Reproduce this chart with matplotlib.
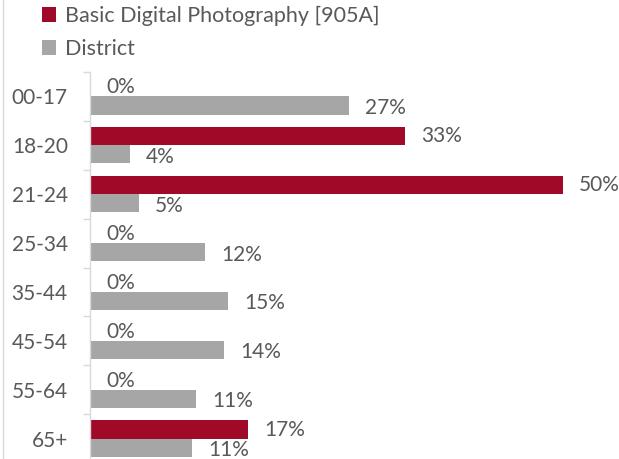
import numpy as np
import matplotlib.pyplot as plt
from matplotlib.lines import Line2D

# Данные
age_groups = ['00-17', '18-20', '21-24', '25-34', '35-44', '45-54', '55-64', '65+']
course_pct = [0, 33.3, 50.0, 0, 0, 0, 0, 16.7]
district_pct = [27.4, 4.2, 5.2, 12.2, 14.6, 14.2, 11.2, 10.8]
series_names = ['Basic Digital Photography [905A]', 'District']

red = '#A00A28'
gray = '#A6A6A6'
text_col = '#595959'
line_col = '#D9D9D9'
fs = 15

plt.rcParams['font.family'] = ['Lato', 'DejaVu Sans']

fig = plt.figure(figsize=(6.19, 4.59), dpi=100)
ax = fig.add_axes([90 / 619, -4 / 459, 520 / 619, 391 / 459])

y = np.arange(len(age_groups))
h = 0.37
ax.barh(y - h / 2, course_pct, height=h, color=red, label=series_names[0])
ax.barh(y + h / 2, district_pct, height=h, color=gray, label=series_names[1])

# Подписи значений
for i in range(len(age_groups)):
    ax.annotate(f'{course_pct[i]:.0f}%', (course_pct[i], y[i] - h / 2),
                xytext=(16, 0), textcoords='offset pixels',
                va='center', ha='left', fontsize=fs, color=text_col)
    ax.annotate(f'{district_pct[i]:.0f}%', (district_pct[i], y[i] + h / 2 + 0.05),
                xytext=(16, 0), textcoords='offset pixels',
                va='center', ha='left', fontsize=fs, color=text_col)

ax.set_xlim(0, 55)
ax.set_ylim(len(age_groups) - 0.5, -0.5)

ax.set_yticks(y)
ax.set_yticklabels(age_groups, fontsize=fs, color=text_col)
ax.tick_params(axis='y', length=0, pad=16)
ax.set_yticks(np.arange(-0.5, len(age_groups), 1), minor=True)
ax.tick_params(axis='y', which='minor', length=5, color=line_col, width=1)
ax.set_xticks([])

for s in ['top', 'right', 'bottom']:
    ax.spines[s].set_visible(False)
ax.spines['left'].set_color(line_col)
ax.spines['left'].set_linewidth(1)

# Легенда
ax.legend(loc='upper left', bbox_to_anchor=(42 / 619, 1 - 6 / 459), bbox_transform=fig.transFigure,
          frameon=False, fontsize=15.5, labelcolor=text_col,
          handlelength=0.65, handleheight=0.65, handletextpad=0.4, labelspacing=0.6,
          borderaxespad=0, borderpad=0)

# Рамка диаграммы слева
fig.add_artist(Line2D([3 / 619, 3 / 619], [0, 1], transform=fig.transFigure,
                      color=line_col, linewidth=1))

fig.savefig('out.png', dpi=100)
